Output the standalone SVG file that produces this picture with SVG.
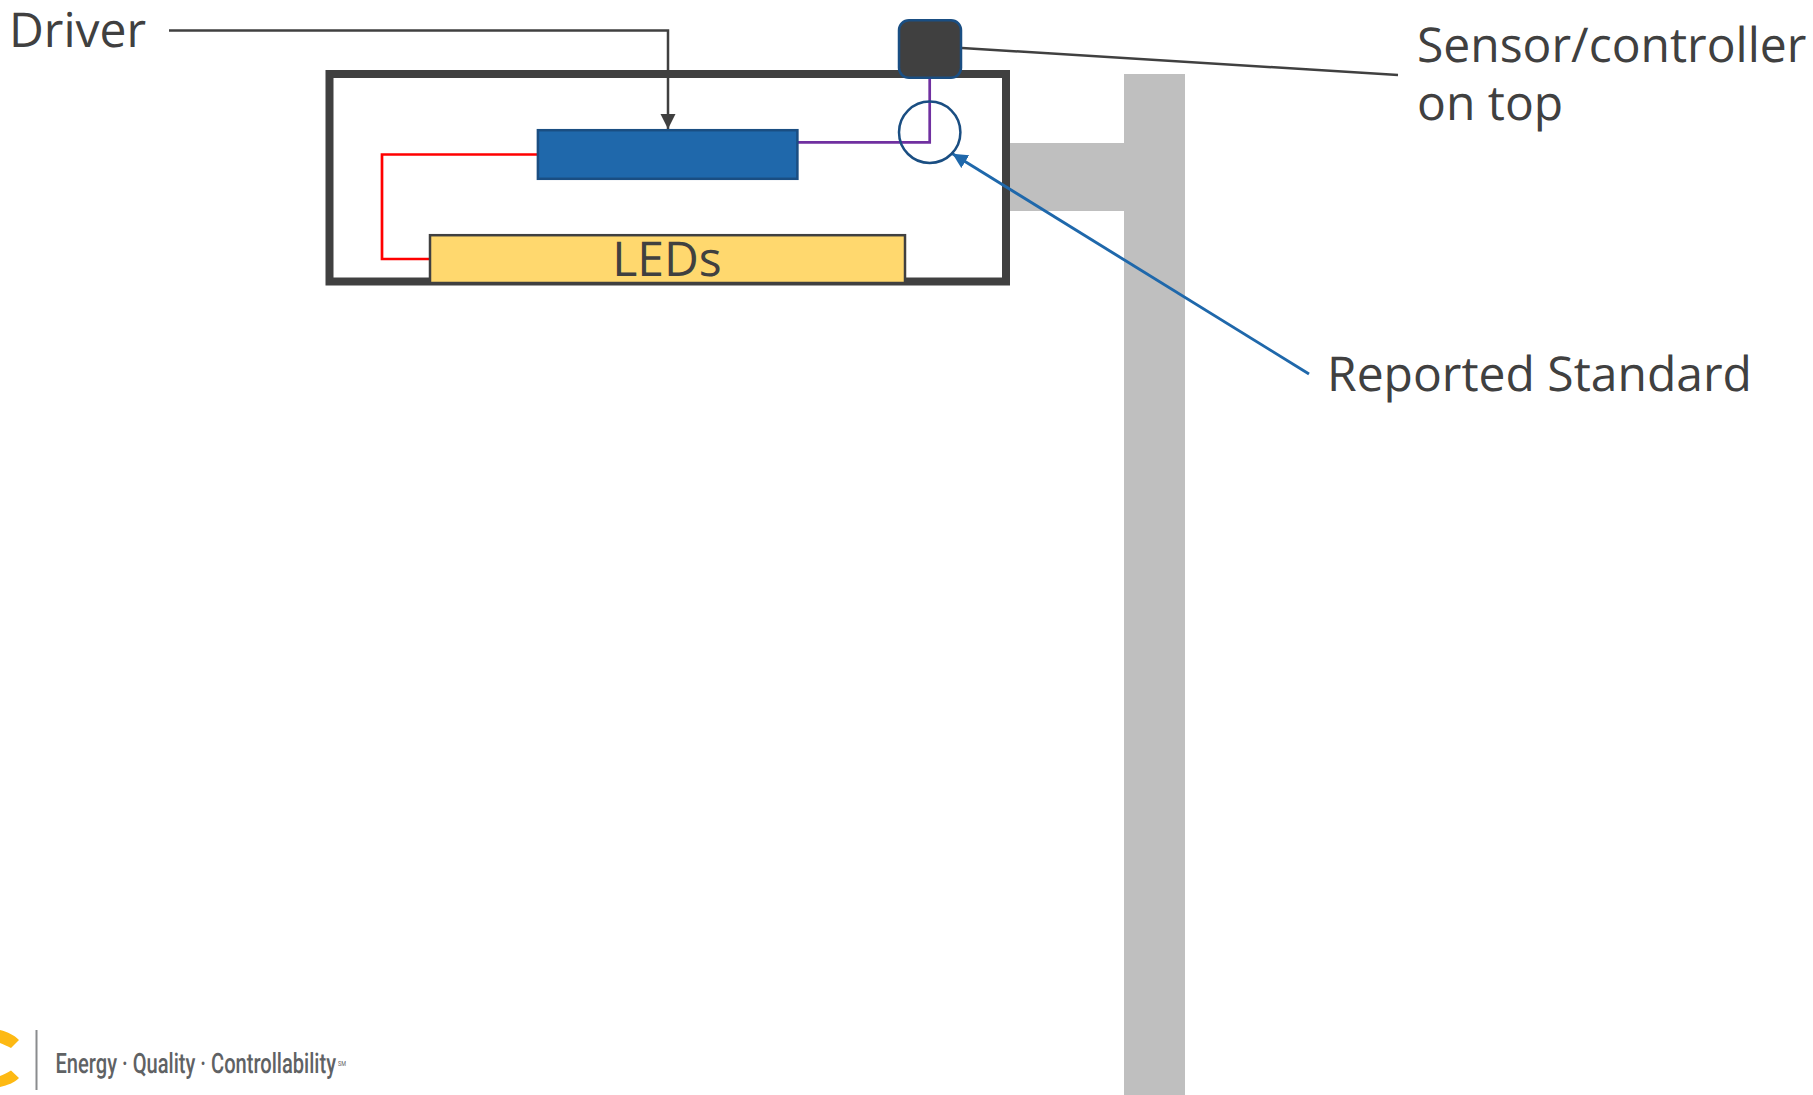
<svg xmlns="http://www.w3.org/2000/svg" width="1813" height="1095" viewBox="0 0 1813 1095">
<style>
.lbl{font-family:"Open Sans","Noto Sans",sans-serif;font-size:48px;fill:#404040;text-rendering:geometricPrecision}
.wire{fill:none;stroke-width:2.7}
.tag{font-family:"Roboto","Liberation Sans",sans-serif;fill:#5f6264;text-rendering:geometricPrecision}
</style>
<defs>
<marker id="ah" markerUnits="userSpaceOnUse" markerWidth="17" markerHeight="17" refX="15" refY="7.500" orient="auto"><path d="M0 0L15 7.500L0 15Z" fill="context-stroke"/></marker>
</defs>
<rect width="1813" height="1095" fill="#fff"/>
<g id="pole"><path d="M1124 74H1185V1095H1124V211H1006V143H1124Z" fill="#bfbfbf"/></g>
<g id="housing"><rect x="329.500" y="74" width="676.500" height="207.500" fill="none" stroke="#404040" stroke-width="8"/></g>
<g id="connectors">
<path class="wire" d="M537 154.500H382V259H430" stroke="#ff0000"/>
<path class="wire" d="M798 142.300H929.700V78" stroke="#7030a0"/>
<path d="M169 30.500H668V129" fill="none" stroke="#404040" stroke-width="2.500" marker-end="url(#ah)"/>
<path d="M962 48L1398 75" fill="none" stroke="#404040" stroke-width="2.500"/>
<path d="M1309 374L952.500 153.800" fill="none" stroke="#1f68ab" stroke-width="2.900" marker-end="url(#ah)"/>
</g>
<g id="driver"><rect x="537.900" y="130.200" width="259.500" height="48.600" fill="#1f68ab" stroke="#1a4e82" stroke-width="2.500"/></g>
<g id="leds"><rect x="430" y="235.200" width="475" height="47.800" fill="#ffd86e" stroke="#404040" stroke-width="2.500"/><text class="lbl" x="667" y="276" text-anchor="middle">LEDs</text></g>
<g id="sensor"><rect x="899" y="20.300" width="62" height="57.400" rx="10" fill="#404040" stroke="#1a4e82" stroke-width="2.500"/></g>
<g id="standard-point"><circle cx="929.700" cy="132.300" r="30.700" fill="none" stroke="#1a4e82" stroke-width="2.500"/></g>
<g id="label-driver"><text class="lbl" x="9" y="47">Driver</text></g>
<g id="label-sensor"><text class="lbl" x="1417" y="62">Sensor/controller</text><text class="lbl" x="1417" y="120">on top</text></g>
<g id="label-standard"><text class="lbl" x="1327" y="391">Reported Standard</text></g>
<g id="logo">
<path d="M0 1030C8 1032 14 1035 19 1040L11 1048C7 1046 3 1044 0 1043Z M0 1087C8 1085 14 1083 19 1078L11 1070.500C7 1073 3 1075 0 1076Z" fill="#fdb913"/>
<rect x="35.500" y="1030" width="2" height="60" fill="#8a8c8e"/>
<text class="tag" x="55.500" y="1072.500" font-size="28" font-weight="500" textLength="280.500" lengthAdjust="spacingAndGlyphs">Energy · Quality · Controllability</text>
<text class="tag" x="338" y="1066" font-size="7" textLength="8" lengthAdjust="spacingAndGlyphs">SM</text>
</g>
</svg>
